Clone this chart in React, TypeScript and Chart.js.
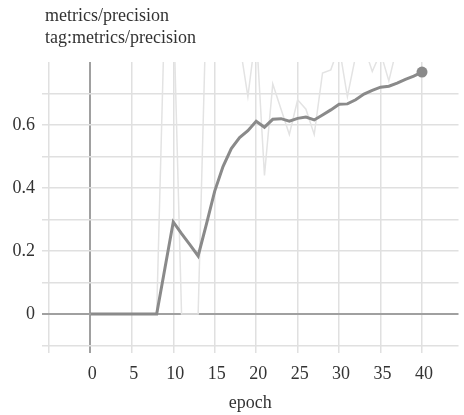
import React, { useEffect, useRef } from 'react';
import { Chart, registerables } from 'chart.js';

Chart.register(...registerables);

const epochs = [0, 1, 2, 3, 4, 5, 6, 7, 8, 9, 10, 11, 12, 13, 14, 15, 16, 17, 18, 19, 20, 21, 22, 23, 24, 25, 26, 27, 28, 29, 30, 31, 32, 33, 34, 35, 36, 37, 38, 39, 40];

const smoothed = [0, 0, 0, 0, 0, 0, 0, 0, 0, 0.146, 0.292, 0.255, 0.22, 0.184, 0.285, 0.39, 0.468, 0.525, 0.56, 0.582, 0.612, 0.593, 0.618, 0.62, 0.612, 0.621, 0.625, 0.616, 0.632, 0.648, 0.666, 0.667, 0.68, 0.698, 0.71, 0.72, 0.723, 0.733, 0.745, 0.755, 0.768];

const raw = [0, 0, 0, 0, 0, 0, 0, 0, 0, 1.0, 1.0, 0, 0, 0, 1.0, 0.95, 0.9, 0.88, 0.86, 0.69, 0.9, 0.44, 0.73, 0.65, 0.57, 0.68, 0.65, 0.57, 0.765, 0.775, 0.85, 0.69, 0.82, 0.85, 0.77, 0.83, 0.74, 0.85, 0.88, 0.9, 0.9];

const xTicks = [-5, 0, 5, 10, 15, 20, 25, 30, 35, 40];
const yTicks = [-0.1, 0, 0.1, 0.2, 0.3, 0.4, 0.5, 0.6, 0.7];
const yLabeled = [0, 0.2, 0.4, 0.6];

const titleLines = ['metrics/precision', 'tag:metrics/precision'];
const xTitle = 'epoch';

const FONT = "'Liberation Serif', 'Times New Roman', Times, serif";
const TEXT = '#333';

export default function App() {
  const ref = useRef<HTMLCanvasElement | null>(null);

  useEffect(() => {
    if (!ref.current) return;
    const gridColor = (ctx: any) => (ctx.tick && ctx.tick.value === 0 ? '#a0a0a0' : '#e0e0e0');
    const gridWidth = (ctx: any) => (ctx.tick && ctx.tick.value === 0 ? 2 : 1.5);
    const chart = new Chart(ref.current, {
      type: 'line',
      data: {
        datasets: [
          {
            label: 'smoothed',
            data: epochs.map((e, i) => ({ x: e, y: smoothed[i] })),
            borderColor: '#8a8a8a',
            backgroundColor: '#8a8a8a',
            borderWidth: 3,
            pointRadius: (ctx: any) => (ctx.dataIndex === epochs.length - 1 ? 5.5 : 0),
            pointBackgroundColor: '#8a8a8a',
            pointBorderWidth: 0,
            tension: 0,
            order: 0,
          },
          {
            label: 'raw',
            data: epochs.map((e, i) => ({ x: e, y: raw[i] })),
            borderColor: '#e3e3e3',
            borderWidth: 1.5,
            pointRadius: 0,
            tension: 0,
            order: 1,
          },
        ],
      },
      options: {
        responsive: false,
        animation: false,
        devicePixelRatio: 1,
        layout: { padding: { top: 62, left: 0, right: 0, bottom: 0 } },
        plugins: { legend: { display: false }, tooltip: { enabled: false } },
        scales: {
          x: {
            type: 'linear',
            min: -5.83,
            max: 44.4,
            border: { display: false },
            grid: { color: gridColor, lineWidth: gridWidth, drawTicks: false },
            afterBuildTicks: (scale: any) => {
              scale.ticks = xTicks.map((v) => ({ value: v }));
            },
            afterFit: (scale: any) => {
              scale.height = 62;
            },
            ticks: {
              padding: 10,
              labelOffset: 2,
              maxRotation: 0,
              autoSkip: false,
              color: TEXT,
              font: { family: FONT, size: 18 },
              callback: (v: any) => (v >= 0 ? String(v) : ''),
            },
            title: {
              display: true,
              text: xTitle,
              color: TEXT,
              font: { family: FONT, size: 18 },
              padding: { top: 0, bottom: 1 },
            },
          },
          y: {
            type: 'linear',
            min: -0.124,
            max: 0.8,
            border: { display: false },
            grid: { color: gridColor, lineWidth: gridWidth, drawTicks: false },
            afterBuildTicks: (scale: any) => {
              scale.ticks = yTicks.map((v) => ({ value: v }));
            },
            afterFit: (scale: any) => {
              scale.width = 42;
            },
            ticks: {
              padding: 7,
              autoSkip: false,
              color: TEXT,
              font: { family: FONT, size: 18 },
              callback: (v: any) => {
                const r = Math.round(v * 10) / 10;
                return yLabeled.some((l) => Math.abs(l - r) < 1e-9) ? String(r) : '';
              },
            },
          },
        },
      },
    });
    return () => chart.destroy();
  }, []);

  return (
    <div style={{ position: 'absolute', left: 0, top: 0, width: 464, height: 415, background: '#fff' }}>
      <canvas ref={ref} width={464} height={415} style={{ position: 'absolute', left: 0, top: 0 }} />
      <div
        style={{
          position: 'absolute',
          left: 45,
          top: 4,
          fontFamily: FONT,
          fontSize: 18,
          lineHeight: '22px',
          color: TEXT,
          whiteSpace: 'nowrap',
        }}
      >
        {titleLines.map((t) => (
          <div key={t}>{t}</div>
        ))}
      </div>
    </div>
  );
}
